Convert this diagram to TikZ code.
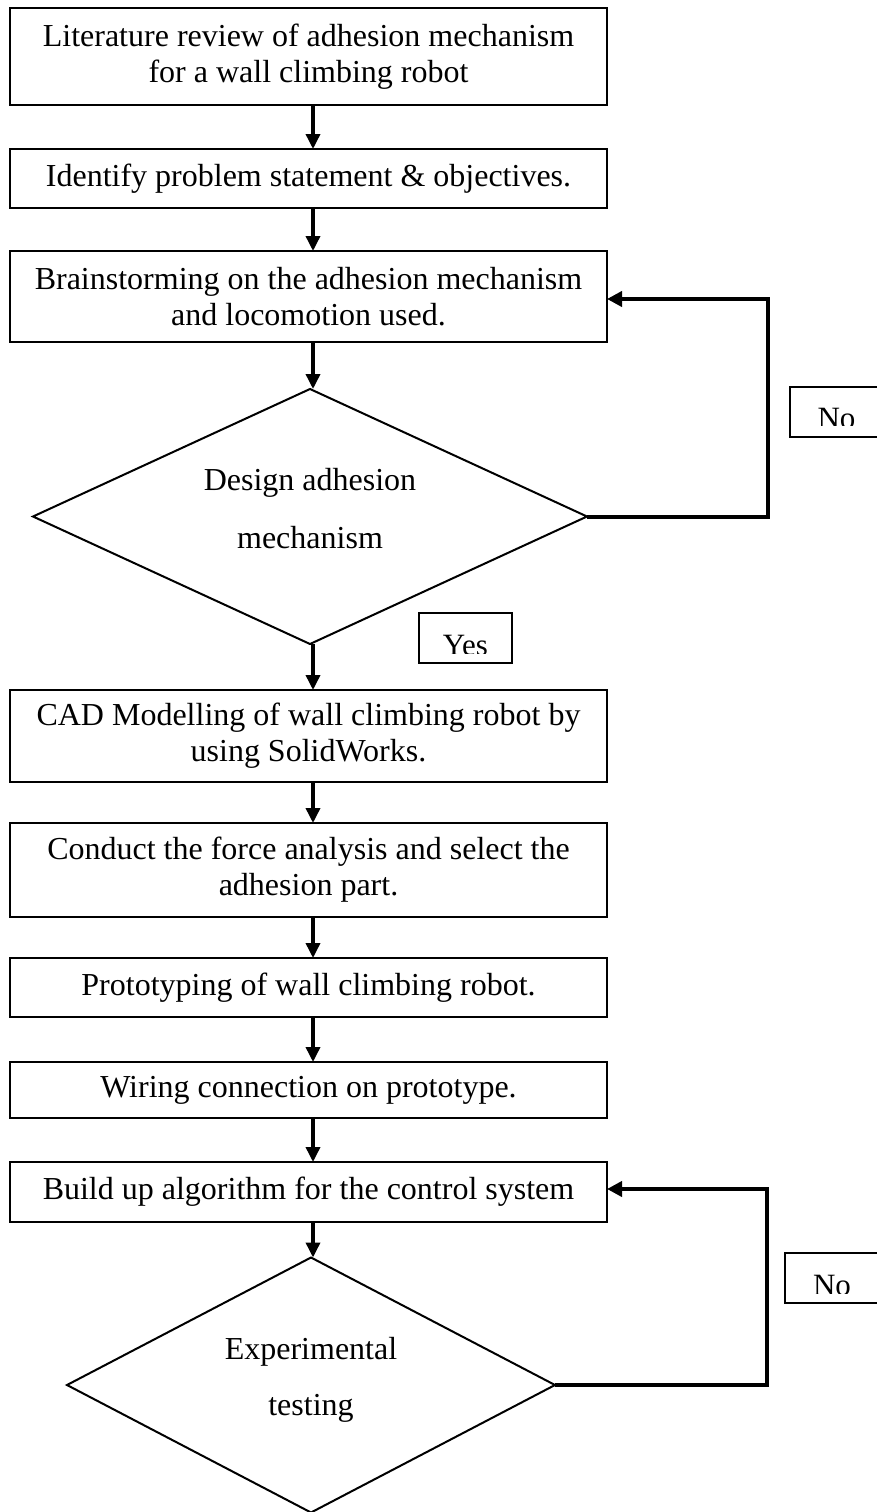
\documentclass[tikz,border=0pt]{standalone}
\usepackage{fontspec}
\setmainfont{Liberation Serif}
\usetikzlibrary{shapes.geometric,arrows.meta}
\tikzset{
  stepbox/.style={draw, line width=2.5pt, inner sep=0pt, outer sep=0pt, align=center, minimum width=597pt, font=\fontsize{32}{36}\selectfont},
  decis/.style={draw, diamond, line width=2pt, inner sep=0pt, outer sep=0pt},
  dtext/.style={inner sep=0pt, font=\fontsize{32}{36}\selectfont},
  tagtext/.style={inner sep=0pt, anchor=base, font=\fontsize{31}{36}\selectfont},
  flow/.style={line width=3.5pt, -{Triangle[length=15pt,width=14pt]}},
  back/.style={line width=4pt, line join=miter, -{Triangle[length=15pt,width=15pt]}},
  tagline/.style={line width=2.5pt},
}
\begin{document}
\begin{tikzpicture}[x=1pt,y=-1pt]
\useasboundingbox (0,0) rectangle (877,1512);
\coordinate (ax) at (313,0);
% boxes
\node[stepbox, minimum height=97pt] (b1) at (308.5,56.5) {Literature review of adhesion mechanism\\for a wall climbing robot};
\node[stepbox, minimum height=59pt] (b2) at (308.5,178.5) {Identify problem statement \& objectives.};
\node[stepbox, minimum height=91pt] (b3) at (308.5,296.5) {Brainstorming on the adhesion mechanism\\and locomotion used.};
\node[decis, minimum width=554pt, minimum height=255pt] (d1) at (310,516.5) {};
\node[dtext] (d1a) at (310,483) {Design adhesion};
\node[dtext] (d1b) at (310,538) {mechanism};
\node[stepbox, minimum height=92pt] (b4) at (308.5,736) {CAD Modelling of wall climbing robot by\\using SolidWorks.};
\node[stepbox, minimum height=94pt] (b5) at (308.5,870) {Conduct the force analysis and select the\\adhesion part.};
\node[stepbox, minimum height=59pt] (b6) at (308.5,987.5) {Prototyping of wall climbing robot.};
\node[stepbox, minimum height=56pt] (b7) at (308.5,1090) {Wiring connection on prototype.};
\node[stepbox, minimum height=60pt] (b8) at (308.5,1192) {Build up algorithm for the control system};
\node[decis, minimum width=488pt, minimum height=255pt] (d2) at (311,1385) {};
\node[dtext] (d2a) at (311,1352) {Experimental};
\node[dtext] (d2b) at (311,1408) {testing};
% main flow
\draw[flow] (b1.south -| ax) -- (b2.north -| ax);
\draw[flow] (b2.south -| ax) -- (b3.north -| ax);
\draw[flow] (b3.south -| ax) -- (d1.north -| ax);
\draw[flow] (d1.south -| ax) -- (b4.north -| ax);
\draw[flow] (b4.south -| ax) -- (b5.north -| ax);
\draw[flow] (b5.south -| ax) -- (b6.north -| ax);
\draw[flow] (b6.south -| ax) -- (b7.north -| ax);
\draw[flow] (b7.south -| ax) -- (b8.north -| ax);
\draw[flow] (b8.south -| ax) -- (d2.north -| ax);
% feedback loops
\coordinate (c1) at (768,299);
\draw[back] (d1.east) -| (c1) -- (c1 -| b3.east);
\coordinate (c2) at (767,1189);
\draw[back] (d2.east) -| (c2) -- (c2 -| b8.east);
% tags
\draw[tagline] (877,387) -- (790,387) -- (790,437) -- (877,437);
\begin{scope}
\clip (790,387) rectangle (877,425);
\node[tagtext] (no1) at (836.5,428) {No};
\end{scope}
\draw[tagline] (419,613) rectangle (512,663);
\begin{scope}
\clip (419,613) rectangle (512,653);
\node[tagtext] (yes) at (465.5,655) {Yes};
\end{scope}
\draw[tagline] (877,1253) -- (785,1253) -- (785,1303) -- (877,1303);
\begin{scope}
\clip (785,1253) rectangle (877,1293);
\node[tagtext] (no2) at (832,1295) {No};
\end{scope}
\end{tikzpicture}
\end{document}
